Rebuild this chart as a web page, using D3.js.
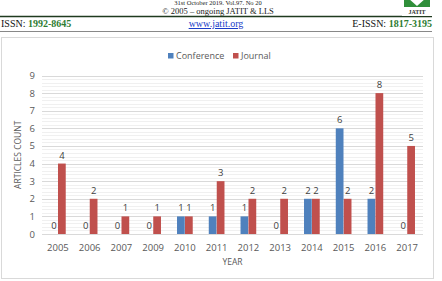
<!DOCTYPE html>
<html>
<head>
<meta charset="utf-8">
<script src="https://cdn.jsdelivr.net/npm/d3@7"></script>
<style>
  body { margin: 0; background: #fff; }
  svg { display: block; }
</style>
</head>
<body>
<svg width="442" height="281"></svg>
<script>
const width = 442;
const height = 281;

// data
const years = ["2005", "2006", "2007", "2009", "2010", "2011", "2012", "2013", "2014", "2015", "2016", "2017"];
const series = ["Conference", "Journal"];
const conference = [0, 0, 0, 0, 1, 1, 1, 0, 2, 6, 2, 0];
const journal = [4, 2, 1, 1, 1, 3, 2, 2, 2, 2, 8, 5];
const yTicks = [0, 1, 2, 3, 4, 5, 6, 7, 8, 9];

const rows = years.map((y, i) => ({ year: y, Conference: conference[i], Journal: journal[i] }));

const color = d3.scaleOrdinal()
  .domain(series)
  .range(["#4F81BD", "#C0504D"]);

const svg = d3.select("svg");
const font = "'Open Sans', sans-serif";
const serif = "'Liberation Serif', serif";

// journal page header
svg.append("text")
  .attr("x", 218).attr("y", 5)
  .attr("text-anchor", "middle")
  .attr("font-family", serif).attr("font-size", 6.5)
  .attr("fill", "#222")
  .text("31st October 2019. Vol.97. No 20");

svg.append("text")
  .attr("x", 218).attr("y", 14)
  .attr("text-anchor", "middle")
  .attr("font-family", serif).attr("font-size", 8.5)
  .attr("fill", "#222")
  .text("\u00A9 2005 \u2013 ongoing  JATIT & LLS");

svg.append("line")
  .attr("x1", 0).attr("x2", 432).attr("y1", 16.5).attr("y2", 16.5)
  .attr("stroke", "#1f3a1f").attr("stroke-width", 1.5);

// logo
const logo = svg.append("g").attr("transform", "translate(402,0)");
logo.append("rect").attr("x", 0).attr("y", 0).attr("width", 30).attr("height", 16).attr("fill", "#fff");
logo.append("rect").attr("x", 2).attr("y", -2).attr("width", 26).attr("height", 9).attr("fill", "#2f8f3a");
logo.append("polygon").attr("points", "6,-2 15,6 24,-2").attr("fill", "#fff");
logo.append("text")
  .attr("x", 15).attr("y", 14)
  .attr("text-anchor", "middle")
  .attr("font-family", serif).attr("font-size", 6).attr("font-weight", "bold")
  .attr("fill", "#333")
  .text("JATIT");

const issn = svg.append("text")
  .attr("x", 1).attr("y", 27)
  .attr("font-family", serif).attr("font-size", 10)
  .attr("fill", "#111");
issn.append("tspan").text("ISSN: ");
issn.append("tspan").attr("fill", "#2e7d32").attr("font-weight", "bold").text("1992-8645");

svg.append("text")
  .attr("x", 216).attr("y", 27)
  .attr("text-anchor", "middle")
  .attr("font-family", serif).attr("font-size", 10)
  .attr("fill", "#1a3cc8")
  .attr("text-decoration", "underline")
  .text("www.jatit.org");

const eissn = svg.append("text")
  .attr("x", 432).attr("y", 27)
  .attr("text-anchor", "end")
  .attr("font-family", serif).attr("font-size", 10)
  .attr("fill", "#111");
eissn.append("tspan").text("E-ISSN: ");
eissn.append("tspan").attr("fill", "#2e7d32").attr("font-weight", "bold").text("1817-3195");

svg.append("line")
  .attr("x1", 0).attr("x2", 432).attr("y1", 31.5).attr("y2", 31.5)
  .attr("stroke", "#888").attr("stroke-width", 1);

// chart frame
svg.append("rect")
  .attr("x", 1.5).attr("y", 37.5).attr("width", 432).attr("height", 241)
  .attr("fill", "#fff").attr("stroke", "#d9d9d9");

// scales
const margin = { left: 42, right: 19, top: 75.5, bottom: 47 };
const x = d3.scaleBand()
  .domain(years)
  .range([margin.left, width - margin.right])
  .paddingInner(0.49)
  .paddingOuter(0.245);

const x1 = d3.scaleBand()
  .domain(series)
  .range([0, x.bandwidth()])
  .padding(0.03);

const y = d3.scaleLinear()
  .domain([0, 9])
  .range([height - margin.bottom, margin.top]);

// gridlines: minor then major
const minor = d3.range(0, 9.01, 0.2).filter(v => Math.abs(v - Math.round(v)) > 0.01);
svg.append("g")
  .selectAll("line")
  .data(minor)
  .join("line")
  .attr("x1", margin.left).attr("x2", width - margin.right)
  .attr("y1", d => Math.round(y(d)) + 0.5).attr("y2", d => Math.round(y(d)) + 0.5)
  .attr("stroke", "#f0f0f0");

svg.append("g")
  .selectAll("line")
  .data(yTicks)
  .join("line")
  .attr("x1", margin.left).attr("x2", width - margin.right)
  .attr("y1", d => Math.round(y(d)) + 0.5).attr("y2", d => Math.round(y(d)) + 0.5)
  .attr("stroke", "#d9d9d9");

// y axis labels
const yAxis = svg.append("g")
  .attr("transform", `translate(${margin.left - 7},0)`)
  .call(d3.axisLeft(y).tickValues(yTicks).tickSize(0).tickPadding(0));
yAxis.select(".domain").remove();
yAxis.selectAll("text")
  .attr("font-family", font).attr("font-size", 9.5).attr("fill", "#595959");

// x axis labels
const xAxis = svg.append("g")
  .attr("transform", `translate(0,${height - margin.bottom})`)
  .call(d3.axisBottom(x).tickSize(0).tickPadding(10));
xAxis.select(".domain").remove();
xAxis.selectAll("text")
  .attr("font-family", font).attr("font-size", 9.5).attr("fill", "#595959");

// bars
const groups = svg.append("g")
  .selectAll("g")
  .data(rows)
  .join("g")
  .attr("transform", d => `translate(${x(d.year)},0)`);

groups.selectAll("rect")
  .data(d => series.map(k => ({ key: k, value: d[k] })))
  .join("rect")
  .attr("x", d => x1(d.key))
  .attr("width", x1.bandwidth())
  .attr("y", d => y(d.value))
  .attr("height", d => y(0) - y(d.value))
  .attr("fill", d => color(d.key));

groups.selectAll("text.val")
  .data(d => series.map(k => ({ key: k, value: d[k] })))
  .join("text")
  .attr("class", "val")
  .attr("x", d => x1(d.key) + x1.bandwidth() / 2)
  .attr("y", d => y(d.value) - 5)
  .attr("text-anchor", "middle")
  .attr("font-family", font).attr("font-size", 9.5).attr("fill", "#404040")
  .text(d => d.value);

// legend
const legendX = [168, 233];
const legend = svg.append("g")
  .selectAll("g")
  .data(series)
  .join("g")
  .attr("transform", (d, i) => `translate(${legendX[i]},53)`);
legend.append("rect")
  .attr("width", 5.5).attr("height", 5.5)
  .attr("fill", d => color(d));
legend.append("text")
  .attr("x", 8).attr("y", 5.5)
  .attr("font-family", font).attr("font-size", 9).attr("fill", "#595959")
  .text(d => d);

// axis titles
svg.append("text")
  .attr("transform", `translate(21,${(y(0) + y(9)) / 2}) rotate(-90)`)
  .attr("text-anchor", "middle")
  .attr("font-family", font).attr("font-size", 8.5).attr("fill", "#595959")
  .text("ARTICLES COUNT");

svg.append("text")
  .attr("x", (margin.left + width - margin.right) / 2)
  .attr("y", 265)
  .attr("text-anchor", "middle")
  .attr("font-family", font).attr("font-size", 8.5).attr("fill", "#595959")
  .text("YEAR");
</script>
</body>
</html>
